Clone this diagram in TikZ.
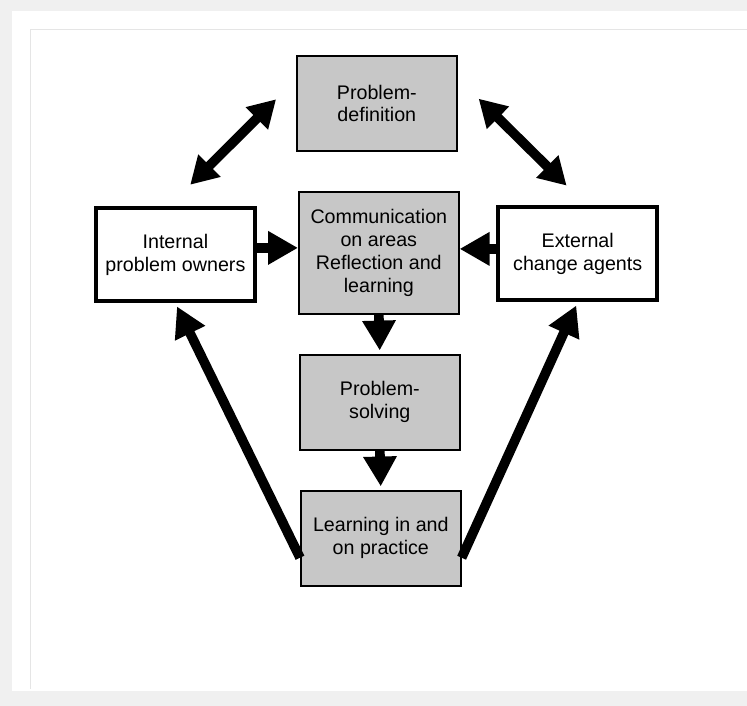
\documentclass[tikz,border=0pt]{standalone}
\usepackage{fontspec}
\setmainfont{Liberation Sans}
\usetikzlibrary{arrows.meta, calc}

\begin{document}
\begin{tikzpicture}[x=0.02cm, y=-0.02cm]
\tikzset{box/.style = {draw, line width=1pt, fill=black!22, minimum width=3.2cm, minimum height=1.9cm, align=center, font=\fontsize{11.2}{13}\selectfont},
 actor/.style = {box, fill=white, line width=2.2pt, minimum width=3.18cm, minimum height=1.86cm},
 flow/.style = {-{Triangle[length=17pt,width=18pt]}, line width=5.5pt},
 both/.style = {{Triangle[length=15.5pt,width=17pt]}-{Triangle[length=15.5pt,width=17pt]}, line width=5.5pt}}
            % page
	\fill[black!6] (0,0) rectangle (747,706);
	\fill[white] (12,11) rectangle (747,691);
	\draw[black!10] (30,689) -- (30,29) -- (747,29);
            % boxes
	\node[box] (pd) at (377,103.5) {Problem-\\definition};
	\node[box, minimum height=2.44cm] (comm) at (379,253) {Communication\\on areas\\Reflection and\\learning};
	\node[actor] (int) at (175.5,255) {Internal\\problem owners};
	\node[actor] (ext) at (578,254) {External\\change agents};
	\node[box] (ps) at (380,402.5) {Problem-\\solving};
	\node[box] (learn) at (381,538.5) {Learning in and\\on practice};
            % arrows
	\draw[both, shorten <=17.5pt, shorten >=16pt] ($(int.north)+(-7,0)$) -- ($(pd.west)+(0,-24)$);
	\draw[both, shorten <=16.8pt, shorten >=16.1pt] ($(pd.east)+(0,-25.5)$) -- ($(ext.north)+(9,0)$);
	\draw[flow] ([yshift=0.14cm]int.east) -- ([yshift=0.14cm]int.east -| comm.west);
	\draw[flow] ([yshift=0.1cm]ext.west) -- ([yshift=0.1cm]ext.west -| comm.east);
	\draw[flow, shorten >=2pt] (comm.south) -- (ps.north);
	\draw[flow, shorten >=2pt] (ps.south) -- (learn.north);
	\draw[flow, shorten >=2pt] ([yshift=-0.39cm]learn.west) -- (int.south);
	\draw[flow, shorten >=2pt] ([yshift=-0.39cm]learn.east) -- (ext.south);
\end{tikzpicture}
\end{document}
